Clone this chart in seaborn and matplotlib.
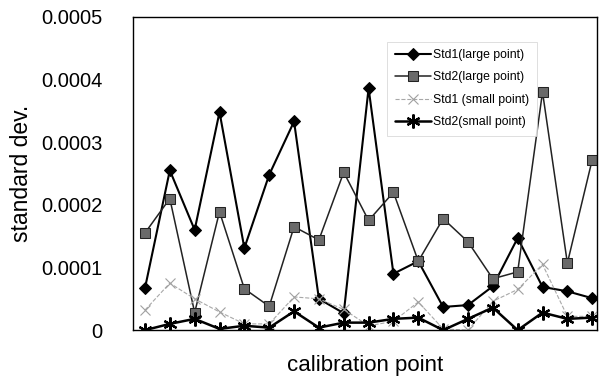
import numpy as np
import pandas as pd
import seaborn as sns
import matplotlib.pyplot as plt

# values (19 calibration points)
points = list(range(19))
std1_large = [0.000067, 0.000255, 0.00016, 0.000348, 0.000131, 0.000248, 0.000333, 0.00005, 0.000027,
              0.000386, 0.00009, 0.00011, 0.000037, 0.00004, 0.00007, 0.000147, 0.000069, 0.000062, 0.000051]
std2_large = [0.000155, 0.00021, 0.000028, 0.000189, 0.000066, 0.000038, 0.000165, 0.000144, 0.000252,
              0.000175, 0.00022, 0.00011, 0.000178, 0.000141, 0.000082, 0.000093, 0.00038, 0.000107, 0.000272]
std1_small = [0.000032, 0.000075, 0.00005, 0.000029, 0.00001, 0.00001, 0.000053, 0.00005, 0.000033,
              0.000007, 0.000014, 0.000045, 0.000002, 0.0, 0.000046, 0.000065, 0.000105, 0.000022, 0.000022]
std2_small = [0.0, 0.00001, 0.000018, 0.000002, 0.000007, 0.000004, 0.00003, 0.000004, 0.000012,
              0.000012, 0.000018, 0.00002, 0.0, 0.000018, 0.000036, 0.0, 0.000028, 0.000018, 0.00002]
labels = ['Std1(large point)', 'Std2(large point)', 'Std1 (small point)', 'Std2(small point)']
yticks = [0, 0.0001, 0.0002, 0.0003, 0.0004, 0.0005]
ytick_labels = ['0', '0.0001', '0.0002', '0.0003', '0.0004', '0.0005']

df = pd.DataFrame({'point': points, labels[0]: std1_large, labels[1]: std2_large,
                   labels[2]: std1_small, labels[3]: std2_small})

sns.set_style('white')
plt.rcParams['font.family'] = ['Liberation Sans', 'DejaVu Sans']
plt.rcParams['text.color'] = 'black'
plt.rcParams['axes.labelcolor'] = 'black'
plt.rcParams['ytick.color'] = 'black'

fig = plt.figure(figsize=(6.02, 3.83), dpi=100)
ax = fig.add_axes([0.221, 0.138, 0.771, 0.818])

styles = {
    labels[0]: dict(color='black', lw=1.5, marker='D', markersize=6.5, markerfacecolor='black',
                    markeredgecolor='black'),
    labels[1]: dict(color='#222222', lw=1.1, marker='s', markersize=6.5, markerfacecolor='#6a6a6a',
                    markeredgecolor='#222222'),
    labels[2]: dict(color='#a8a8a8', lw=0.8, ls='--', marker='x', markersize=7, markeredgecolor='#a0a0a0',
                    markeredgewidth=0.8),
    labels[3]: dict(color='black', lw=1.8, marker=(6, 2, 0), markersize=10, markeredgecolor='black',
                    markeredgewidth=1.6),
}
for name in labels:
    sns.lineplot(data=df, x='point', y=name, ax=ax, label=name, **styles[name])

ax.set_xlim(-0.48, 18.2)
ax.set_ylim(0, 0.0005)
ax.set_xticks([])
ax.set_yticks(yticks)
ax.set_yticklabels(ytick_labels)
ax.tick_params(axis='y', length=0, pad=22, labelsize=14.5)
ax.set_xlabel('calibration point', fontsize=16, labelpad=18)
ax.set_ylabel('standard dev.', fontsize=16.5, labelpad=6)
for sp in ax.spines.values():
    sp.set_color('black')
    sp.set_linewidth(1.0)

leg = ax.legend(loc='upper left', bbox_to_anchor=(0.535, 0.94), fontsize=8.8, handlelength=3.0,
                handletextpad=0.15, labelspacing=0.85, frameon=True, fancybox=False, borderpad=0.6)
leg.get_frame().set_edgecolor('#d0d0d0')
leg.get_frame().set_linewidth(0.6)

fig.savefig('out.png', dpi=100)
